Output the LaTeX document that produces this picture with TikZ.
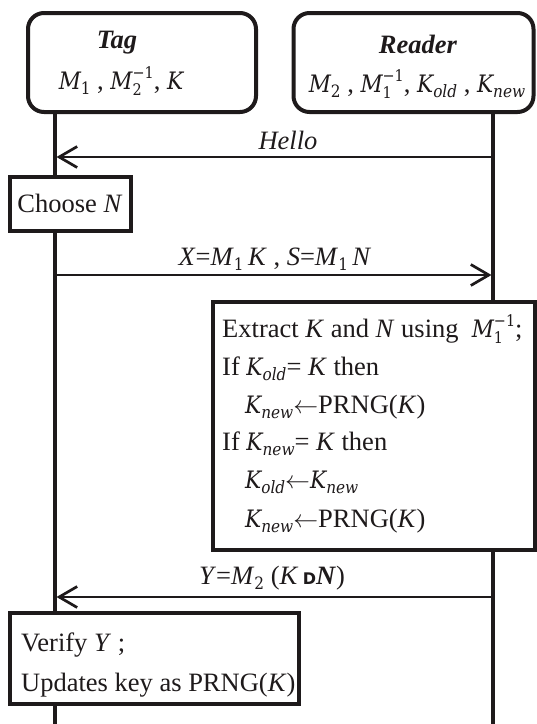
\documentclass[tikz,border=0pt]{standalone}
\usepackage{fontspec}
\setmainfont{Liberation Serif}
\newfontfamily\dfont{DejaVu Sans}
\newfontfamily\cmb{DejaVu Serif}[FakeStretch=0.9]
\newcommand{\mv}[1]{{\cmb\itshape\fontsize{24}{38}\selectfont #1}}
\newcommand{\sbs}[1]{\raisebox{-5pt}{\cmb\fontsize{17}{17}\selectfont #1}}
\newcommand{\sbi}[1]{\raisebox{-5pt}{\cmb\itshape\fontsize{17}{17}\selectfont #1}}
\newcommand{\sbsup}[2]{\rlap{\raisebox{-6pt}{\cmb\fontsize{16}{16}\selectfont #1}}\raisebox{11pt}{\cmb\fontsize{16}{16}\selectfont #2}}
\newcommand{\mone}{\char"2212 1}
\usetikzlibrary{arrows.meta}
\definecolor{ink}{HTML}{1E1A1B}
\begin{document}
\begin{tikzpicture}[x=1pt,y=-1pt,
  every node/.style={font=\fontsize{26.5}{38}\selectfont, inner sep=0pt, text=ink},
  entity/.style={draw=ink, line width=4pt, rounded corners=16pt, fill=white},
  actbox/.style={draw=ink, line width=3.4pt, fill=white},
  life/.style={draw=ink, line width=3.2pt},
  msg/.style={draw=ink, line width=2.7pt, -{Straight Barb[length=18pt, width=21pt, line width=2.7pt]}},
  txt/.style={anchor=base west},
  ctxt/.style={anchor=base}]
\useasboundingbox (0,0) rectangle (537,724);
% lifeline ends
\coordinate (tagend) at (55,724);
\coordinate (rdrend) at (493,724);
% entity boxes
\node[entity, minimum width=228pt, minimum height=99pt] (tag) at (142,62.5) {};
\node[entity, minimum width=240pt, minimum height=99pt] (rdr) at (413.5,62.5) {};
% lifelines
\draw[life] (tag.south -| tagend) -- (tagend);
\draw[life] (rdr.south -| rdrend) -- (rdrend);
% entity texts
\node[ctxt] (tagt) at (117,48) {\textbf{\textit{Tag}}};
\node[ctxt] (tagv) at (121,89) {\mv{M}\sbs{1} , \mv{M}\sbsup{2}{\mone}, \mv{K}};
\node[ctxt] (rdrt) at (418,53) {\textbf{\textit{Reader}}};
\node[ctxt] (rdrv) at (417,92) {\mv{M}\sbs{2} , \mv{M}\sbsup{1}{\mone}, \mv{K}\sbi{old} , \mv{K}\sbi{new}};
% message points
\coordinate (m1) at (0,157);
\coordinate (m2) at (0,275);
\coordinate (m3) at (0,597);
% Hello
\draw[msg] (rdrend |- m1) -- ([xshift=1.5pt]tagend |- m1);
\node[ctxt] (hello) at (288,149) {\textit{Hello}};
% Choose N
\node[actbox, minimum width=121pt, minimum height=54pt] (choose) at (70.5,204) {};
\node[ctxt] (chooset) at (70,212) {Choose \textit{N}};
% X message
\draw[msg] (tagend |- m2) -- ([xshift=-1.5pt]rdrend |- m2);
\node[ctxt] (xmsg) at (275,265) {\textit{X}=\textit{M}\sbs{1}\,\textit{K} , \textit{S}=\textit{M}\sbs{1}\,\textit{N}};
% big reader box
\node[actbox, minimum width=322pt, minimum height=248pt] (extract) at (374,426) {};
\node[txt] (l1) at (222,337) {Extract \textit{K} and \textit{N} using \ \mv{M}\sbsup{1}{\mone};};
\node[txt] (l2) at (222,375) {If \mv{K}\sbi{old}= \textit{K} then};
\node[txt] (l3) at (245,413) {\mv{K}\sbi{new}$\leftarrow$PRNG(\textit{K})};
\node[txt] (l4) at (222,450) {If \mv{K}\sbi{new}= \textit{K} then};
\node[txt] (l5) at (245,488) {\mv{K}\sbi{old}$\leftarrow$\mv{K}\sbi{new}};
\node[txt] (l6) at (245,527) {\mv{K}\sbi{new}$\leftarrow$PRNG(\textit{K})};
% Y message
\draw[msg] (rdrend |- m3) -- ([xshift=1.5pt]tagend |- m3);
\node[ctxt] (ymsg) at (272,584) {\textit{Y}=\textit{M}\sbs{2} (\textit{K}\,{\dfont\bfseries\fontsize{16}{16}\selectfont D}\textbf{\textit{N}})};
% verify box
\node[actbox, minimum width=289pt, minimum height=91pt] (verify) at (154.5,658.5) {};
\node[txt] (v1) at (21,651) {Verify \textit{Y} ;};
\node[txt] (v2) at (21,691) {Updates key as PRNG(\textit{K})};
\end{tikzpicture}
\end{document}
